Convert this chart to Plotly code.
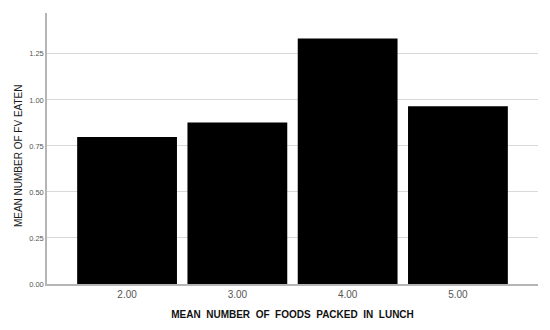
import plotly.graph_objects as go

categories = ["2.00", "3.00", "4.00", "5.00"]
values = [0.798, 0.877, 1.333, 0.965]
y_ticks = [0, 0.25, 0.5, 0.75, 1.0, 1.25]
y_tick_labels = ["0.00", "0.25", "0.50", "0.75", "1.00", "1.25"]
x_title = "<b>MEAN&nbsp; NUMBER&nbsp; OF&nbsp; FOODS&nbsp; PACKED&nbsp; IN&nbsp; LUNCH</b>"
y_title = "MEAN NUMBER OF FV EATEN"

FONT = "Liberation Sans, Arial, sans-serif"

# the page body has an 8px default margin; the figure is sized to fill the 550x330 window
fig = go.Figure(go.Bar(x=categories, y=values, marker=dict(color="black", line=dict(width=0))))

fig.update_layout(
    width=542, height=322,
    margin=dict(l=39, r=12, t=5, b=46, autoexpand=False),
    plot_bgcolor="white", paper_bgcolor="white",
    bargap=0.095,
    showlegend=False,
    font=dict(family=FONT),
    annotations=[dict(
        text=y_title, textangle=-90, xref="paper", yref="paper",
        x=-0.059, y=0.472, xanchor="center", yanchor="middle", showarrow=False,
        font=dict(size=10, color="#1a1a1a", family=FONT),
    )],
)
fig.update_xaxes(
    type="category", range=[-0.726, 3.726], automargin=False,
    showline=True, linecolor="#b5b5b5", linewidth=1.5,
    ticks="", tickfont=dict(size=10, color="#555555"),
    title=dict(text=x_title, font=dict(size=10, color="#111111", family=FONT), standoff=12),
    showgrid=False, zeroline=False,
)
fig.update_yaxes(
    range=[0, 1.472], automargin=False,
    tickvals=y_ticks, ticktext=y_tick_labels,
    tickfont=dict(size=7.5, color="#555555"),
    ticks="",
    showline=True, linecolor="#b5b5b5", linewidth=1.5,
    showgrid=True, gridcolor="#d9d9d9", gridwidth=1,
    zeroline=False,
)

fig.write_html("out.html")
